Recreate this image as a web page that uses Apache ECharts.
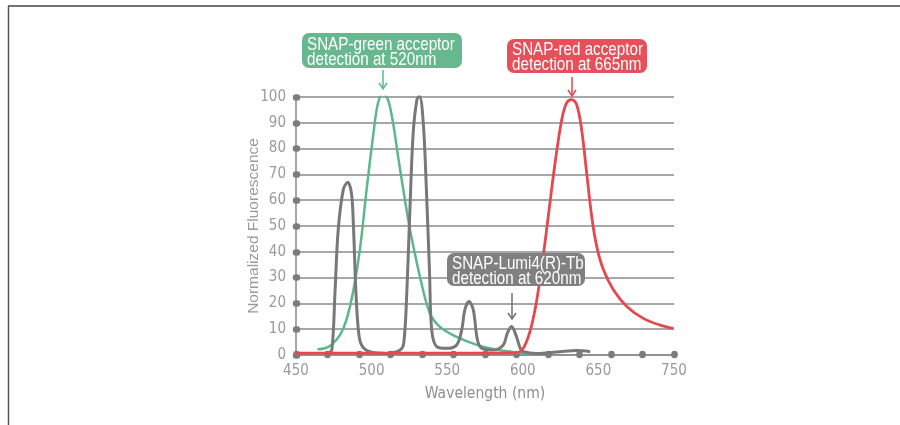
<!DOCTYPE html>
<html lang="en">
<head>
    <meta charset="UTF-8">
    <title>SNAP spectra</title>
    <script src="https://cdn.jsdelivr.net/npm/echarts@6.0.0/dist/echarts.min.js"></script>
    <style>
        body { margin: 0; background: #fff; }
        #main { width: 900px; height: 425px; }
    </style>
</head>
<body>
    <div id="main"></div>
    <script>
        // tick labels printed under the axis (as in the original figure)
        var xTickLabels = ['450', '500', '550', '600', '650', '750'];

        // green acceptor emission
        var greenWl  = [467, 473, 478, 485, 490, 495.5, 501, 506, 511.5, 515, 519, 523, 527, 531, 536.5, 540.5, 546, 548.5, 556, 564, 577.5, 593, 609, 622, 636];
        var greenVal = [2.2, 2.6, 3.9, 7.8, 13.6, 25, 42, 64, 86, 97.5, 101.3, 99, 90, 77, 60, 48.5, 35.5, 30, 16.5, 11, 7, 4, 2, 1.2, 0.4];

        // Lumi4-Tb donor emission
        var grayWl  = [475.5, 478.5, 481, 483.5, 487.5, 491, 494, 495.5, 497.5, 499.5, 502, 508.5, 522, 532.5, 535.5, 538, 540.5, 543, 546, 548, 551, 553.5, 556, 557.7, 561.7, 569.6, 577.5, 581.5, 584, 587.3, 590.7, 594, 597.4, 606.6, 614.5, 617.7, 621, 624.5, 628, 630.5, 641, 659.5, 673, 683.5];
        var grayVal = [0.6, 2, 25, 48.5, 64, 67, 62.7, 51, 25, 9.7, 3.9, 1.3, 0.6, 1.9, 4.5, 25, 57.6, 86, 99, 100.3, 90, 64, 31.7, 9.7, 3.2, 2.6, 3.9, 9.7, 17.5, 20.7, 17.5, 5.8, 2.6, 1.9, 3.9, 8.4, 11, 7.8, 2.6, 1.3, 0.6, 1.3, 1.7, 1.3];

        // red acceptor emission
        var redWl  = [450, 500, 550, 600, 620, 627.8, 634.4, 639.7, 645, 650.2, 655.6, 660.9, 664.8, 668.8, 672.8, 676.7, 680.7, 684.7, 688.7, 694, 702, 712.5, 725.6, 739, 749.5];
        var redVal = [0.7, 0.7, 0.7, 0.7, 0.8, 1.3, 7.1, 17.5, 34, 53.7, 74.4, 91.2, 97.7, 99, 97, 87.3, 70.5, 53.7, 42, 33, 25.2, 18.8, 14.2, 11.6, 10.3];

        function zip(xs, ys) {
            return xs.map(function (x, i) { return [x, ys[i]]; });
        }

        var narrow = "'DejaVu Sans Condensed', sans-serif";
        var axisGray = '#8a8a8a';
        var dotGray = '#7c7c7c';

        var myChart = echarts.init(document.getElementById('main'));

        // rounded label box; text squeezed horizontally to look like the condensed original
        function box(x, y, w, h, color, lines) {
            return {
                type: 'group', z: 100,
                children: [
                    { type: 'rect', z: 100, shape: { x: x, y: y, width: w, height: h, r: 7 }, style: { fill: color } },
                    {
                        type: 'text', z: 101, x: x + 5, y: y + h / 2 + 1.5, scaleX: 0.8,
                        style: {
                            text: lines, fill: '#fff', font: "19px 'Liberation Sans', sans-serif",
                            lineHeight: 15, verticalAlign: 'middle', align: 'left'
                        }
                    }
                ]
            };
        }

        function arrow(x, y1, y2, color) {
            return {
                type: 'group', z: 100,
                children: [
                    { type: 'line', z: 100, shape: { x1: x, y1: y1, x2: x, y2: y2 }, style: { stroke: color, lineWidth: 1.5 } },
                    { type: 'polyline', z: 100, shape: { points: [[x - 4, y2 - 6], [x, y2], [x + 4, y2 - 6]] }, style: { stroke: color, lineWidth: 1.5, fill: null } }
                ]
            };
        }

        var option = {
            animation: false,
            grid: { left: 296, right: 226, top: 97, bottom: 70 },
            xAxis: [
                {
                    type: 'value', min: 450, max: 750, interval: 25,
                    axisLine: { show: true, lineStyle: { color: axisGray, width: 1.5 } },
                    axisTick: { show: true, inside: true, length: 1, lineStyle: { color: dotGray, width: 6.5, cap: 'round' } },
                    axisLabel: { show: false },
                    splitLine: { show: false }
                },
                {
                    type: 'value', min: 0, max: 5, interval: 1, position: 'bottom',
                    axisLine: { show: false }, axisTick: { show: false }, splitLine: { show: false },
                    axisLabel: {
                        margin: 9, color: '#9a9a9a', fontSize: 15, fontFamily: narrow,
                        formatter: function (v) { return xTickLabels[v]; }
                    },
                    name: 'Wavelength (nm)', nameLocation: 'middle', nameGap: 31,
                    nameTextStyle: { color: '#8e8e8e', fontSize: 15.5, fontFamily: narrow }
                }
            ],
            yAxis: {
                type: 'value', min: 0, max: 100, interval: 10,
                axisLine: { show: true, lineStyle: { color: axisGray, width: 1.5 } },
                axisTick: { show: true, inside: true, length: 1, lineStyle: { color: dotGray, width: 6.5, cap: 'round' } },
                axisLabel: { margin: 10, color: '#9a9a9a', fontSize: 15, fontFamily: narrow },
                splitLine: { show: true, lineStyle: { color: axisGray, width: 1.5 } },
                name: 'Normalized Fluorescence', nameLocation: 'middle', nameGap: 34, nameMoveOverlap: false,
                nameTextStyle: { color: '#9a9a9a', fontSize: 15.5, fontFamily: "'Liberation Sans', sans-serif" }
            },
            series: [
                {
                    type: 'line', data: zip(greenWl, greenVal), smooth: 0.35, symbol: 'none',
                    lineStyle: { color: '#5cb88a', width: 2.5 }
                },
                {
                    type: 'line', data: zip(grayWl, grayVal), smooth: 0.35, symbol: 'none',
                    lineStyle: { color: '#787878', width: 3 }
                },
                {
                    type: 'line', data: zip(redWl, redVal), smooth: 0.35, symbol: 'none',
                    lineStyle: { color: '#e5484f', width: 2.8 }
                }
            ],
            graphic: [
                { type: 'line', shape: { x1: 8, y1: 6, x2: 900, y2: 6 }, style: { stroke: '#444', lineWidth: 1.5 } },
                { type: 'line', shape: { x1: 8.5, y1: 6, x2: 8.5, y2: 425 }, style: { stroke: '#555', lineWidth: 1.5 } },
                box(302, 33, 160, 35, '#67b88f', 'SNAP-green acceptor\ndetection at 520nm'),
                box(507, 39, 140, 34, '#e6505a', 'SNAP-red acceptor\ndetection at 665nm'),
                box(447, 253, 138, 33, '#808080', 'SNAP-Lumi4(R)-Tb\ndetection at 620nm'),
                arrow(383, 70, 89, '#5cb88a'),
                arrow(572, 77, 96, '#e5484f'),
                arrow(512, 293, 319, '#707070')
            ]
        };
        myChart.setOption(option);
    </script>
</body>
</html>
